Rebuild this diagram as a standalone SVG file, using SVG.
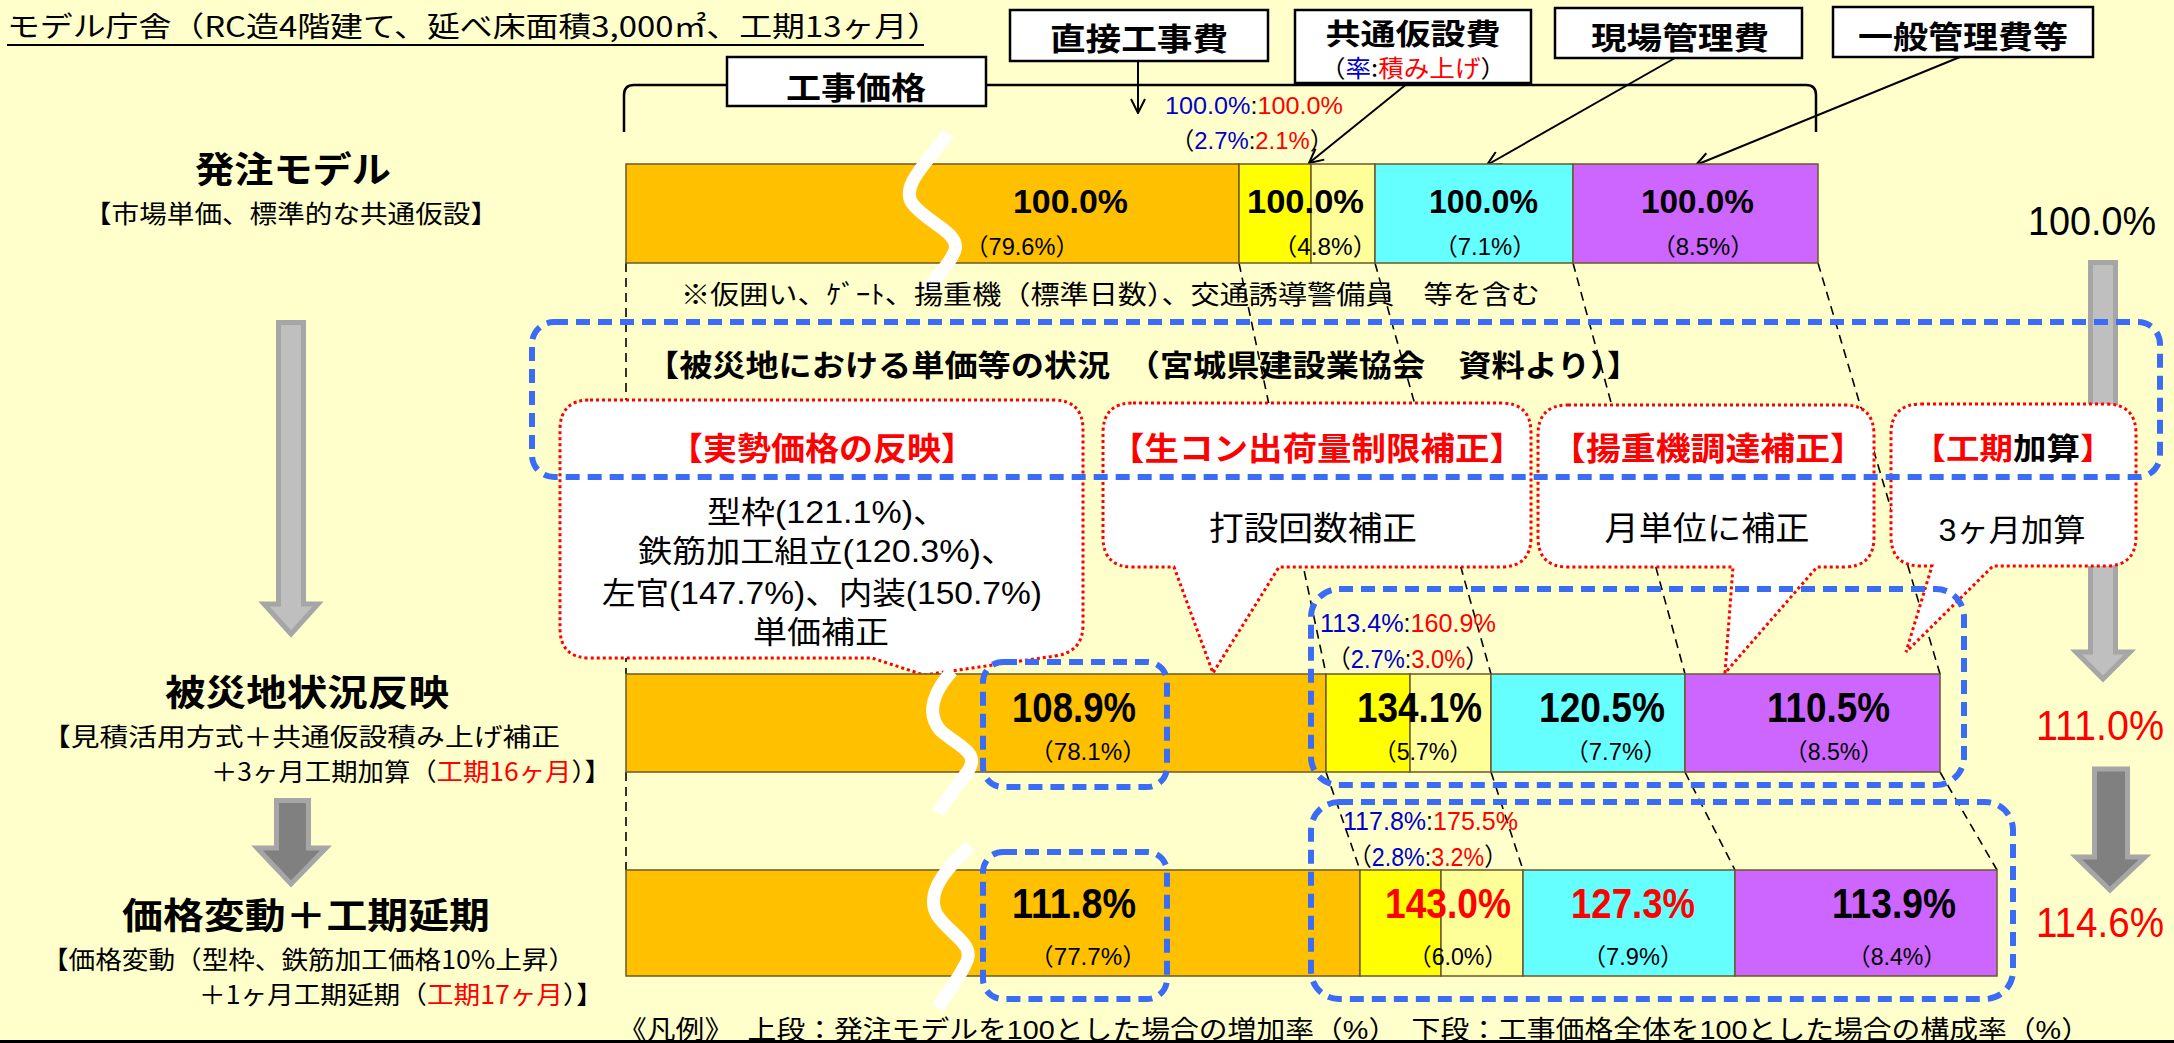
<svg xmlns="http://www.w3.org/2000/svg" width="2174" height="1043" viewBox="0 0 2174 1043">
<defs>
<style>
text { font-family: "Noto Sans CJK JP", sans-serif; fill: #000; }
.num { font-family: "Liberation Sans", "Noto Sans CJK JP", sans-serif; }
.b { font-weight: bold; }
.c { text-anchor: middle; }
.red { fill: #FF0000; }
.blue { fill: #0000CC; }
.hbox { fill: #fff; stroke: #000; stroke-width: 2.5; }
.seg { stroke: #6b5a2a; stroke-width: 1.5; }
.or { fill: #FFC000; } .ye { fill: #FFFF00; } .ly { fill: #FFFF99; } .cy { fill: #66FFFF; } .pu { fill: #CC66FF; }
.conn { fill: none; stroke: #000; stroke-width: 1.6; stroke-dasharray: 9 6; }
.arw { fill: none; stroke: #000; stroke-width: 2; marker-end: url(#vhead); }
.wave { fill: none; stroke: #fff; stroke-width: 13; }
.bdash { fill: none; stroke: #3A6CF5; stroke-width: 6; stroke-dasharray: 14 8; }
.call { fill: #fff; stroke: #FF0000; stroke-width: 3; stroke-dasharray: 3 3; }
.garrow { fill: #BFBFBF; stroke: #A6A6A6; stroke-width: 5; }
.darrow { fill: #808080; stroke: #A6A6A6; stroke-width: 5; }
</style>
<marker id="vhead" viewBox="0 0 16 16" refX="15" refY="8" markerWidth="16" markerHeight="16" markerUnits="userSpaceOnUse" orient="auto">
<path d="M1,1 L15,8 L1,15" fill="none" stroke="#000" stroke-width="2"/>
</marker>
</defs>

<rect x="0" y="0" width="2174" height="1043" fill="#FFFFCC"/>
<rect x="0" y="1040" width="2174" height="3" fill="#000"/>

<!-- title -->
<g id="title">
<text x="7" y="37" font-size="28" textLength="933" lengthAdjust="spacingAndGlyphs">モデル庁舎（RC造4階建て、延べ床面積3,000㎡、工期13ヶ月）</text>
<line x1="7" y1="45" x2="924" y2="45" stroke="#000" stroke-width="2"/>
</g>

<!-- gray flow arrows (behind) -->
<g id="flow-arrows">
<path class="garrow" d="M278.5,322.5 H303.5 V604 H318 L291,634 L264,604 H278.5 Z"/>
<path class="darrow" d="M276.5,800.5 H308.5 V848 H326 L291,884 L257,848 H276.5 Z"/>
<path class="garrow" d="M2090.5,262.5 H2115.5 V652 H2130 L2103,679 L2076,652 H2090.5 Z"/>
<path class="darrow" d="M2094.5,769 H2127.5 V857 H2145 L2110,890 L2076,857 H2094.5 Z"/>
</g>

<!-- connectors -->
<g id="connectors">
<path d="M624,132 V95 Q624,85 634,85 H1806 Q1816,85 1816,95 V132" fill="none" stroke="#000" stroke-width="2.5"/>
<line class="arw" x1="1138" y1="61" x2="1138" y2="113"/>
<line class="arw" x1="1408" y1="83" x2="1309" y2="163"/>
<line class="arw" x1="1675" y1="58" x2="1487" y2="165"/>
<line class="arw" x1="1960" y1="57" x2="1696" y2="165"/>
<line class="conn" x1="626" y1="263" x2="626" y2="674"/>
<line class="conn" x1="1239" y1="263" x2="1326" y2="674"/>
<line class="conn" x1="1375" y1="263" x2="1491" y2="674"/>
<line class="conn" x1="1573" y1="263" x2="1685" y2="674"/>
<line class="conn" x1="1818" y1="263" x2="1940" y2="674"/>
<line class="conn" x1="626" y1="772" x2="626" y2="870"/>
<line class="conn" x1="1326" y1="772" x2="1360" y2="870"/>
<line class="conn" x1="1491" y1="772" x2="1523" y2="870"/>
<line class="conn" x1="1685" y1="772" x2="1735" y2="870"/>
<line class="conn" x1="1940" y1="772" x2="1997" y2="870"/>
</g>

<!-- header boxes -->
<g id="box-kojikakaku">
<rect class="hbox" x="727" y="57" width="259" height="49"/>
<text class="b c" x="856" y="99" font-size="31" textLength="140" lengthAdjust="spacingAndGlyphs">工事価格</text>
</g>
<g id="box-chokusetsu">
<rect class="hbox" x="1010" y="10" width="258" height="51"/>
<text class="b c" x="1139" y="50" font-size="31" textLength="178" lengthAdjust="spacingAndGlyphs">直接工事費</text>
</g>
<g id="box-kyotsu">
<rect class="hbox" x="1295" y="10" width="236" height="73"/>
<text class="b c" x="1413" y="45" font-size="29" textLength="175" lengthAdjust="spacingAndGlyphs">共通仮設費</text>
<text class="c" x="1413" y="77" font-size="24" textLength="186" lengthAdjust="spacingAndGlyphs">（<tspan class="blue">率</tspan>:<tspan class="red">積み上げ</tspan>）</text>
</g>
<g id="box-genba">
<rect class="hbox" x="1555" y="8" width="247" height="50"/>
<text class="b c" x="1680" y="49" font-size="31" textLength="178" lengthAdjust="spacingAndGlyphs">現場管理費</text>
</g>
<g id="box-ippan">
<rect class="hbox" x="1833" y="7" width="260" height="50"/>
<text class="b c" x="1963" y="48" font-size="31" textLength="210" lengthAdjust="spacingAndGlyphs">一般管理費等</text>
</g>

<!-- row 1 -->
<g id="row-hatchu">
<text class="b c" x="293" y="183" font-size="36" textLength="196" lengthAdjust="spacingAndGlyphs">発注モデル</text>
<text class="c" x="291" y="223" font-size="25" textLength="414" lengthAdjust="spacingAndGlyphs">【市場単価、標準的な共通仮設】</text>
<rect class="seg or" x="626" y="164" width="613" height="99"/>
<rect class="seg ye" x="1239" y="164" width="72" height="99"/>
<rect class="seg ly" x="1311" y="164" width="64" height="99"/>
<rect class="seg cy" x="1375" y="164" width="198" height="99"/>
<rect class="seg pu" x="1573" y="164" width="245" height="99"/>
<path class="wave" d="M948,133 C930,160 900,185 912,203 C925,222 960,232 955,250 C950,265 935,278 925,292"/>
<text class="num b" x="1013" y="213" font-size="34" textLength="115" lengthAdjust="spacingAndGlyphs">100.0%</text>
<text class="num b" x="1247" y="213" font-size="34" textLength="117" lengthAdjust="spacingAndGlyphs">100.0%</text>
<text class="num b" x="1429" y="213" font-size="34" textLength="109" lengthAdjust="spacingAndGlyphs">100.0%</text>
<text class="num b" x="1641" y="213" font-size="34" textLength="113" lengthAdjust="spacingAndGlyphs">100.0%</text>
<text class="num c" x="1022" y="255" font-size="24" textLength="114" lengthAdjust="spacingAndGlyphs">（79.6%）</text>
<text class="num c" x="1325" y="255" font-size="24" textLength="104" lengthAdjust="spacingAndGlyphs">（4.8%）</text>
<text class="num c" x="1485" y="255" font-size="24" textLength="102" lengthAdjust="spacingAndGlyphs">（7.1%）</text>
<text class="num c" x="1703" y="255" font-size="24" textLength="102" lengthAdjust="spacingAndGlyphs">（8.5%）</text>
<text class="num" x="1165" y="114" font-size="24" textLength="178" lengthAdjust="spacingAndGlyphs"><tspan class="blue">100.0%</tspan>:<tspan class="red">100.0%</tspan></text>
<text class="num c" x="1252" y="149" font-size="24" textLength="163" lengthAdjust="spacingAndGlyphs">（<tspan class="blue">2.7%</tspan>:<tspan class="red">2.1%</tspan>）</text>
<text x="681" y="304" font-size="26" textLength="859" lengthAdjust="spacingAndGlyphs">※仮囲い、ｹﾞｰﾄ、揚重機（標準日数）、交通誘導警備員　等を含む</text>
<text class="num" x="2028" y="235" font-size="40" textLength="128" lengthAdjust="spacingAndGlyphs">100.0%</text>
</g>

<!-- callouts -->
<g id="callout-jissei">
<path class="call" d="M590,400 H1053 Q1083,400 1083,430 V625 Q1083,652 1055,656 L924,675 L872,658 H590 Q560,658 560,628 V430 Q560,400 590,400 Z"/>
<text class="b c red" x="822" y="460" font-size="32" textLength="306" lengthAdjust="spacingAndGlyphs">【実勢価格の反映】</text>
<text class="num" x="707" y="523" font-size="31" textLength="240" lengthAdjust="spacingAndGlyphs">型枠(121.1%)、</text>
<text class="num" x="638" y="562" font-size="31" textLength="377" lengthAdjust="spacingAndGlyphs">鉄筋加工組立(120.3%)、</text>
<text class="num c" x="822" y="604" font-size="31" textLength="440" lengthAdjust="spacingAndGlyphs">左官(147.7%)、内装(150.7%)</text>
<text class="c" x="821" y="643" font-size="31" textLength="136" lengthAdjust="spacingAndGlyphs">単価補正</text>
</g>
<g id="callout-namakon">
<path class="call" d="M1133,403 H1501 Q1531,403 1531,433 V537 Q1531,567 1501,567 H1279 L1213,673 L1174,567 H1133 Q1103,567 1103,537 V433 Q1103,403 1133,403 Z"/>
<text class="b c red" x="1317" y="460" font-size="32" textLength="414" lengthAdjust="spacingAndGlyphs">【生コン出荷量制限補正】</text>
<text class="c" x="1313" y="540" font-size="33" textLength="208" lengthAdjust="spacingAndGlyphs">打設回数補正</text>
</g>
<g id="callout-yojuki">
<path class="call" d="M1568,405 H1844 Q1874,405 1874,435 V537 Q1874,567 1844,567 H1817 L1725,673 L1733,567 H1568 Q1538,567 1538,537 V435 Q1538,405 1568,405 Z"/>
<text class="b c red" x="1708" y="460" font-size="32" textLength="314" lengthAdjust="spacingAndGlyphs">【揚重機調達補正】</text>
<text class="c" x="1707" y="540" font-size="33" textLength="205" lengthAdjust="spacingAndGlyphs">月単位に補正</text>
</g>
<g id="callout-koki">
<path class="call" d="M1921,404 H2106 Q2136,404 2136,434 V536 Q2136,566 2106,566 H1993 L1906,652 L1932,566 H1921 Q1891,566 1891,536 V434 Q1891,404 1921,404 Z"/>
<text class="b c" x="2013" y="459" font-size="30" textLength="201" lengthAdjust="spacingAndGlyphs"><tspan class="red">【工期</tspan>加算<tspan class="red">】</tspan></text>
<text class="num c" x="2012" y="541" font-size="31" textLength="147" lengthAdjust="spacingAndGlyphs">3ヶ月加算</text>
</g>

<!-- big blue dashed box -->
<g id="hisaichi-box">
<rect class="bdash" x="532" y="322" width="1628" height="155" rx="22"/>
<text class="b" x="646" y="376" font-size="30" textLength="994" lengthAdjust="spacingAndGlyphs">【被災地における単価等の状況　（宮城県建設業協会　資料より）】</text>
</g>

<!-- row 2 -->
<g id="row-hisaichi">
<text class="b c" x="307" y="706" font-size="36" textLength="284" lengthAdjust="spacingAndGlyphs">被災地状況反映</text>
<text x="42" y="746" font-size="25" textLength="518" lengthAdjust="spacingAndGlyphs">【見積活用方式＋共通仮設積み上げ補正</text>
<text x="211" y="781" font-size="25" textLength="400" lengthAdjust="spacingAndGlyphs">＋3ヶ月工期加算（<tspan class="red">工期16ヶ月</tspan>）】</text>
<rect class="seg or" x="626" y="674" width="700" height="98"/>
<rect class="seg ye" x="1326" y="674" width="84" height="98"/>
<rect class="seg ly" x="1410" y="674" width="81" height="98"/>
<rect class="seg cy" x="1491" y="674" width="194" height="98"/>
<rect class="seg pu" x="1685" y="674" width="255" height="98"/>
<path class="wave" d="M952,671 C935,690 925,712 940,730 C955,745 985,752 965,775 C955,790 945,800 938,813"/>
<rect class="bdash" x="983" y="662" width="184" height="125" rx="20"/>
<rect class="bdash" x="1311" y="589" width="653" height="196" rx="28"/>
<text class="num b" x="1012" y="722" font-size="42" textLength="124" lengthAdjust="spacingAndGlyphs">108.9%</text>
<text class="num b" x="1357" y="722" font-size="42" textLength="125" lengthAdjust="spacingAndGlyphs">134.1%</text>
<text class="num b" x="1539" y="722" font-size="42" textLength="126" lengthAdjust="spacingAndGlyphs">120.5%</text>
<text class="num b" x="1767" y="722" font-size="42" textLength="123" lengthAdjust="spacingAndGlyphs">110.5%</text>
<text class="num c" x="1088" y="760" font-size="24" textLength="117" lengthAdjust="spacingAndGlyphs">（78.1%）</text>
<text class="num c" x="1423" y="760" font-size="24" textLength="99" lengthAdjust="spacingAndGlyphs">（5.7%）</text>
<text class="num c" x="1616" y="760" font-size="24" textLength="102" lengthAdjust="spacingAndGlyphs">（7.7%）</text>
<text class="num c" x="1834" y="760" font-size="24" textLength="99" lengthAdjust="spacingAndGlyphs">（8.5%）</text>
<text class="num" x="1320" y="632" font-size="25" textLength="176" lengthAdjust="spacingAndGlyphs"><tspan class="blue">113.4%</tspan>:<tspan class="red">160.9%</tspan></text>
<text class="num c" x="1408" y="668" font-size="25" textLength="162" lengthAdjust="spacingAndGlyphs">（<tspan class="blue">2.7%</tspan>:<tspan class="red">3.0%</tspan>）</text>
<text class="num red" x="2036" y="740" font-size="42" textLength="128" lengthAdjust="spacingAndGlyphs">111.0%</text>
</g>

<!-- row 3 -->
<g id="row-kakaku">
<text class="b c" x="306" y="929" font-size="36" textLength="368" lengthAdjust="spacingAndGlyphs">価格変動＋工期延期</text>
<text x="42" y="969" font-size="25" textLength="533" lengthAdjust="spacingAndGlyphs">【価格変動（型枠、鉄筋加工価格10%上昇）</text>
<text x="199" y="1004" font-size="25" textLength="404" lengthAdjust="spacingAndGlyphs">＋1ヶ月工期延期（<tspan class="red">工期17ヶ月</tspan>）】</text>
<rect class="seg or" x="626" y="870" width="734" height="106"/>
<rect class="seg ye" x="1360" y="870" width="81" height="106"/>
<rect class="seg ly" x="1441" y="870" width="82" height="106"/>
<rect class="seg cy" x="1523" y="870" width="212" height="106"/>
<rect class="seg pu" x="1735" y="870" width="262" height="106"/>
<path class="wave" d="M970,846 C945,870 925,893 937,915 C950,935 978,945 965,965 C955,985 945,995 938,1008"/>
<rect class="bdash" x="983" y="852" width="184" height="147" rx="20"/>
<rect class="bdash" x="1311" y="802" width="702" height="197" rx="28"/>
<text class="num b" x="1012" y="918" font-size="42" textLength="124" lengthAdjust="spacingAndGlyphs">111.8%</text>
<text class="num b red" x="1385" y="918" font-size="42" textLength="126" lengthAdjust="spacingAndGlyphs">143.0%</text>
<text class="num b red" x="1571" y="918" font-size="42" textLength="124" lengthAdjust="spacingAndGlyphs">127.3%</text>
<text class="num b" x="1832" y="918" font-size="42" textLength="124" lengthAdjust="spacingAndGlyphs">113.9%</text>
<text class="num c" x="1088" y="965" font-size="24" textLength="117" lengthAdjust="spacingAndGlyphs">（77.7%）</text>
<text class="num c" x="1458" y="965" font-size="24" textLength="99" lengthAdjust="spacingAndGlyphs">（6.0%）</text>
<text class="num c" x="1633" y="965" font-size="24" textLength="101" lengthAdjust="spacingAndGlyphs">（7.9%）</text>
<text class="num c" x="1897" y="965" font-size="24" textLength="99" lengthAdjust="spacingAndGlyphs">（8.4%）</text>
<text class="num" x="1343" y="830" font-size="25" textLength="175" lengthAdjust="spacingAndGlyphs"><tspan class="blue">117.8%</tspan>:<tspan class="red">175.5%</tspan></text>
<text class="num c" x="1428" y="866" font-size="25" textLength="159" lengthAdjust="spacingAndGlyphs">（<tspan class="blue">2.8%</tspan>:<tspan class="red">3.2%</tspan>）</text>
<text class="num red" x="2036" y="937" font-size="42" textLength="128" lengthAdjust="spacingAndGlyphs">114.6%</text>
</g>

<g id="legend">
<text class="num" x="618" y="1039" font-size="26" textLength="1472" lengthAdjust="spacingAndGlyphs">《凡例》　上段：発注モデルを100とした場合の増加率（%）　下段：工事価格全体を100とした場合の構成率（%）</text>
</g>
</svg>
